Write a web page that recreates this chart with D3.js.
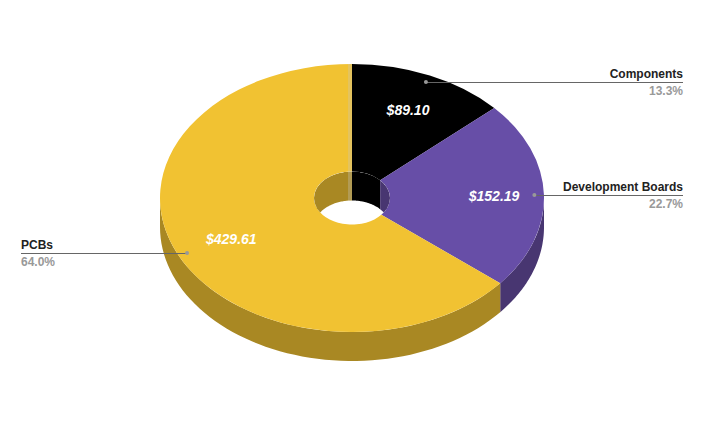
<!DOCTYPE html>
<html>
<head>
<meta charset="utf-8">
<script src="https://cdn.jsdelivr.net/npm/d3@7"></script>
<style>
    html, body { margin: 0; padding: 0; background: #fff; }
    text { font-family: "Liberation Sans", Arial, sans-serif; }
</style>
</head>
<body>
<div id="chart"></div>
<script>
const categories = ["Components", "Development Boards", "PCBs"];
const values = [89.10, 152.19, 429.61];
const valueLabels = ["$89.10", "$152.19", "$429.61"];
const shareLabels = ["13.3%", "22.7%", "64.0%"];
const colors = ["#000000", "#674ea7", "#f1c232"];
const wallColors = ["#000000", "#483671", "#a98823"];

const width = 704;
const height = 426;
const cx = 352;
const cy = 198;
const rx = 192;
const ry = 134;
const holeRx = 38;
const holeRy = 26.5;
const depth = 29;
const squash = ry / rx;

const svg = d3.select("#chart").append("svg")
    .attr("width", width)
    .attr("height", height)
    .attr("viewBox", [0, 0, width, height])
    .style("display", "block");

const slices = d3.pie().sort(null)(values);

// angle is measured clockwise from 12 o'clock, like d3.pie
const xAt = d3.scaleLinear().domain([-1, 1]).range([cx - rx, cx + rx]);
const yAt = d3.scaleLinear().domain([-1, 1]).range([cy - ry, cy + ry]);
const pointAt = (angle, k, dy = 0) => [xAt(k * Math.sin(angle)), yAt(-k * Math.cos(angle)) + dy];

const line = d3.line();

// band between the rim of an ellipse and the same rim shifted down by the depth
function wallPath(a0, a1, k)
{
    const steps = d3.range(0, 61).map(i => a0 + (a1 - a0) * i / 60);
    const top = steps.map(a => pointAt(a, k));
    const bottom = steps.slice().reverse().map(a => pointAt(a, k, depth));
    return line(top.concat(bottom)) + "Z";
}

// Outer wall, only the front half can be seen
const front = [Math.PI / 2, Math.PI * 3 / 2];
svg.append("g")
    .selectAll("path")
    .data(slices.filter(d => d.endAngle > front[0] && d.startAngle < front[1]))
    .join("path")
    .attr("fill", d => wallColors[d.index])
    .attr("d", d => wallPath(Math.max(d.startAngle, front[0]), Math.min(d.endAngle, front[1]), 1));

// Top face
const arc = d3.arc().innerRadius(holeRx).outerRadius(rx);
svg.append("g")
    .attr("transform", `translate(${cx},${cy}) scale(1,${squash})`)
    .selectAll("path")
    .data(slices)
    .join("path")
    .attr("fill", d => colors[d.index])
    .attr("d", arc);

// Inner wall seen through the hole, the back half only
svg.append("clipPath").attr("id", "hole")
    .append("ellipse")
    .attr("cx", cx).attr("cy", cy)
    .attr("rx", holeRx).attr("ry", holeRy);

const holeK = holeRx / rx;
const holeYScale = holeRy / (ry * holeK);
const holeWall = svg.append("g").attr("clip-path", "url(#hole)");
const backSegments = [];
slices.forEach(d => {
    // the back half runs from -90deg through 0 to 90deg, so look at both windings
    [[d.startAngle, d.endAngle], [d.startAngle - Math.PI * 2, d.endAngle - Math.PI * 2]].forEach(([a, b]) => {
        const a0 = Math.max(a, -Math.PI / 2);
        const a1 = Math.min(b, Math.PI / 2);
        if (a1 > a0) backSegments.push({index: d.index, a0, a1});
    });
});
holeWall.selectAll("path")
    .data(backSegments)
    .join("path")
    .attr("fill", d => wallColors[d.index])
    .attr("transform", `translate(0,${cy}) scale(1,${holeYScale}) translate(0,${-cy})`)
    .attr("d", d => wallPath(d.a0, d.a1, holeK));

// Pale seam on the yellow side of the 12 o'clock edge
svg.append("line")
    .attr("x1", cx - 2).attr("y1", pointAt(0, 1)[1])
    .attr("x2", cx - 2).attr("y2", cy - holeRy + depth)
    .attr("stroke", "#c8c8c8")
    .attr("stroke-opacity", 0.3)
    .attr("stroke-width", 4);

// Values on the slices
const midAngle = d => (d.startAngle + d.endAngle) / 2;
const labelRadius = [0.72, 0.74, 0.695];
svg.append("g")
    .selectAll("text")
    .data(slices)
    .join("text")
    .attr("x", d => pointAt(midAngle(d), labelRadius[d.index])[0])
    .attr("y", d => pointAt(midAngle(d), 0.72)[1])
    .attr("dy", "0.35em")
    .attr("text-anchor", "middle")
    .attr("fill", "#ffffff")
    .attr("font-size", 14)
    .attr("font-weight", "bold")
    .attr("font-style", "italic")
    .text(d => valueLabels[d.index]);

// Leaders and outside labels
svg.append("g")
    .selectAll("g")
    .data(slices)
    .join("g")
    .each(function (d) {
        const [px, rawY] = pointAt(midAngle(d), 0.95);
        const py = Math.ceil(rawY) + 0.5;
        const isRight = px > cx;
        const edge = isRight ? 683 : 21;
        const g = d3.select(this);
        g.append("line")
            .attr("x1", px).attr("y1", py)
            .attr("x2", edge).attr("y2", py)
            .attr("stroke", "#666666")
            .attr("stroke-width", 1);
        g.append("circle")
            .attr("cx", px).attr("cy", py - 0.5).attr("r", 2)
            .attr("fill", "#999999");
        g.append("text")
            .attr("x", edge).attr("y", py - 4.5)
            .attr("text-anchor", isRight ? "end" : "start")
            .attr("font-size", 12)
            .attr("font-weight", "bold")
            .attr("fill", "#222222")
            .text(categories[d.index]);
        g.append("text")
            .attr("x", edge).attr("y", py + 12.5)
            .attr("text-anchor", isRight ? "end" : "start")
            .attr("font-size", 12)
            .attr("font-weight", "bold")
            .attr("fill", "#999999")
            .text(shareLabels[d.index]);
    });
</script>
</body>
</html>
